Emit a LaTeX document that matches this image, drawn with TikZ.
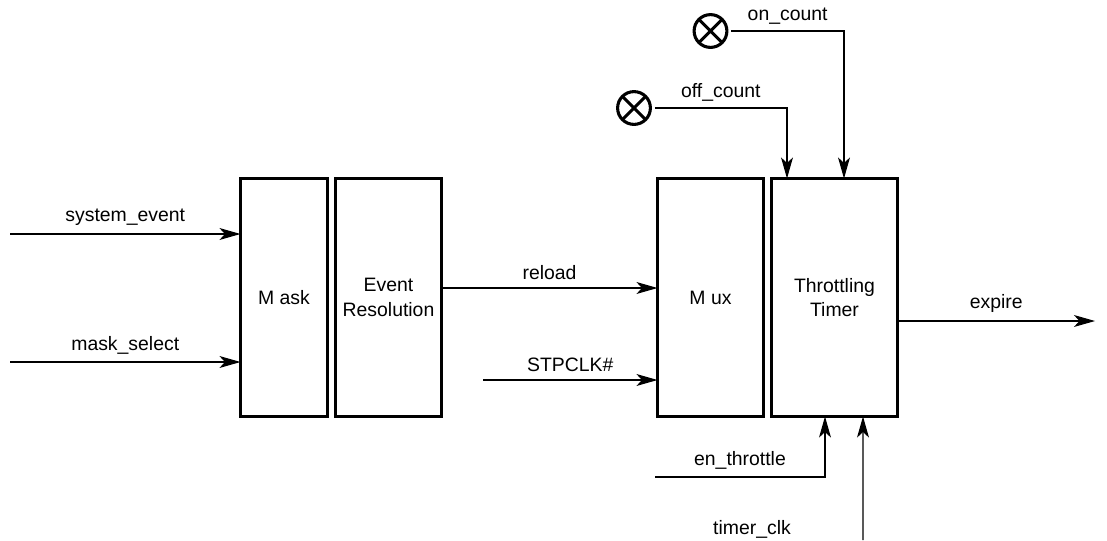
\documentclass[tikz,border=0pt]{standalone}
\usepackage{fontspec}
\setmainfont{Liberation Sans}
\usepackage{tikz}
\usetikzlibrary{arrows.meta,positioning}

\begin{document}
\begin{tikzpicture}[
  font=\fontsize{13.8}{17.5}\selectfont,
  blockbox/.style={draw, line width=2.1pt, outer sep=0pt, minimum height=5.95cm,
                   align=center, inner sep=2pt},
  srcbox/.style={circle, draw, line width=2.2pt, minimum size=0.82cm, inner sep=0pt,
                 path picture={\draw[line width=2.2pt]
                   (path picture bounding box.north west) -- (path picture bounding box.south east)
                   (path picture bounding box.north east) -- (path picture bounding box.south west);}},
  arr/.style={-{Stealth[length=15pt, width=8.5pt, inset=4pt]}, line width=0.75pt},
  node distance=0.5cm and 0.2cm
]
\useasboundingbox (0,0) rectangle (27.675,-13.5);

%% Blocks
\node[blockbox, minimum width=2.175cm] (mask) at (7.1,-7.4375) {M ask};
\node[blockbox, minimum width=2.65cm, right=of mask] (evres) {Event\\Resolution};
\node[blockbox, minimum width=2.65cm] (mux) at (17.7625,-7.4375) {M ux};
\node[blockbox, minimum width=3.15cm, right=of mux] (timer) {Throttling\\Timer};

%% Count sources
\node[srcbox] (offsrc) at (15.85,-2.7) {};
\node[srcbox] (onsrc) at (17.7625,-0.775) {};

%% Free ends
\coordinate (sysin) at (0.25,-5.85);
\coordinate (maskin) at (0.25,-9.05);
\coordinate (stpin) at (12.075,-9.5);
\coordinate (expout) at (27.375,-8.025);
\coordinate (enin) at (16.375,-11.925);
\coordinate (clkin) at (21.575,-13.5);

%% Entry points on the timer
\coordinate (offtop) at ([xshift=-1.1875cm]timer.north);
\coordinate (ontop) at ([xshift=0.2375cm]timer.north);
\coordinate (enbot) at ([xshift=-0.2375cm]timer.south);
\coordinate (clkbot) at ([xshift=0.7125cm]timer.south);

%% Inputs
\draw[arr] (sysin) -- node[above=2pt] {system\_event} (sysin -| mask.west);
\draw[arr] (maskin) -- node[above=2pt] {mask\_select} (maskin -| mask.west);

%% Middle
\draw[arr] ([yshift=0.2375cm]evres.east) -- node[above=2pt] {reload} ([yshift=0.2375cm]mux.west);
\draw[arr] (stpin) -- node[above=2pt] {STPCLK\#} (stpin -| mux.west);

%% Output
\draw[arr] (expout -| timer.east) -- node[above=2pt] {expire} (expout);

%% Counts
\draw[arr] ([xshift=2pt]offsrc.east) -- node[above=1pt] {off\_count} (offsrc.east -| offtop) -- (offtop);
\draw[arr] ([xshift=2pt]onsrc.east) -- node[above=1pt] {on\_count} (onsrc.east -| ontop) -- (ontop);

%% Bottom
\draw[arr] (enin) -- node[above=2pt] {en\_throttle} (enin -| enbot) -- (enbot);
\draw[arr] (clkin) -- (clkbot);
\node[anchor=base] (clklbl) at (18.8,-13.35) {timer\_clk};

\end{tikzpicture}
\end{document}
